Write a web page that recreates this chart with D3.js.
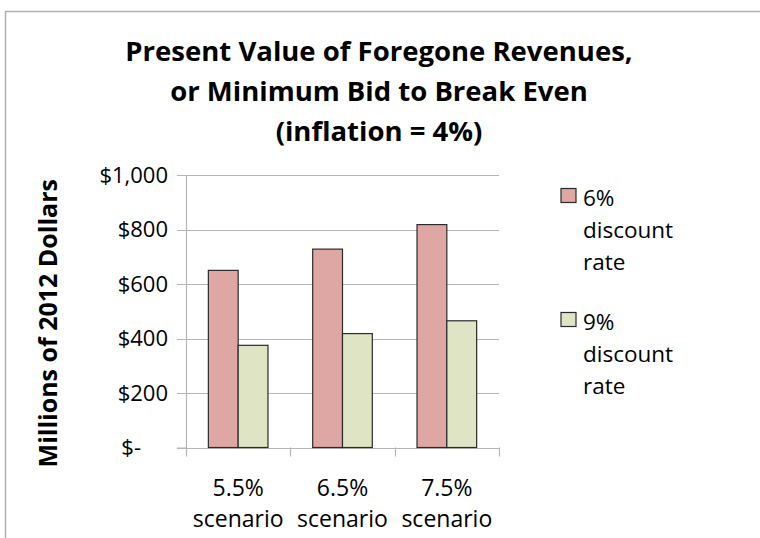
<!DOCTYPE html>
<html lang="en">
<head>
    <meta charset="UTF-8">
    <title>Present Value of Foregone Revenues</title>
    <script src="https://cdn.jsdelivr.net/npm/d3@7"></script>
    <style>
        html, body { margin: 0; padding: 0; background: #fff; }
        svg { display: block; font-family: "Open Sans", sans-serif; }
    </style>
</head>
<body>
    <div id="chart"></div>

    <script>
        // =============================
        // 1. Data
        // =============================
        const scenarios = ["5.5%", "6.5%", "7.5%"];
        const seriesNames = ["6% discount rate", "9% discount rate"];
        const rate6 = [650, 728, 818];
        const rate9 = [375, 418, 465];
        const yTicks = [0, 200, 400, 600, 800, 1000];
        const titleLines = ["Present Value of Foregone Revenues,", "or Minimum Bid to Break Even", "(inflation = 4%)"];

        const colors = ["#dfa7a4", "#dfe5c4"];
        const data = scenarios.map((s, i) => ({ scenario: s, values: [rate6[i], rate9[i]] }));

        // =============================
        // 2. SVG Setup
        // =============================
        const width = 760, height = 538;
        const plot = { left: 186, right: 499, top: 175, bottom: 447.5 };

        const svg = d3.select("#chart").append("svg")
            .attr("width", width)
            .attr("height", height);

        // chart frame (only top and left edges visible in the crop)
        svg.append("path")
            .attr("d", `M5.5,${height} V11.5 H${width}`)
            .attr("fill", "none")
            .attr("stroke", "#b0b0b0")
            .attr("stroke-width", 1.5);

        // title
        svg.append("text")
            .attr("text-anchor", "middle")
            .attr("font-weight", "bold")
            .attr("font-size", 27.5)
            .selectAll("tspan")
            .data(titleLines)
            .enter().append("tspan")
            .attr("x", 379)
            .attr("y", (d, i) => 61 + i * 40)
            .text(d => d);

        // =============================
        // 3. Scales
        // =============================
        const x0 = d3.scaleBand()
            .domain(scenarios)
            .range([plot.left, plot.right])
            .padding(0);

        const x1 = d3.scaleBand()
            .domain([0, 1])
            .range([0, x0.bandwidth()])
            .paddingInner(0)
            .paddingOuter(0.75);

        const y = d3.scaleLinear()
            .domain([0, 1000])
            .range([plot.bottom, plot.top]);

        // =============================
        // 4. Grid + Axes
        // =============================
        svg.append("g")
            .selectAll("line")
            .data(yTicks)
            .enter().append("line")
            .attr("x1", plot.left - 9)
            .attr("x2", plot.right)
            .attr("y1", d => Math.round(y(d)) + 0.5)
            .attr("y2", d => Math.round(y(d)) + 0.5)
            .attr("stroke", "#b5b5b5")
            .attr("stroke-width", 1.2);

        const yAxis = svg.append("g")
            .attr("transform", `translate(${plot.left},0)`)
            .call(d3.axisLeft(y)
                .tickValues(yTicks)
                .tickSize(9)
                .tickPadding(9)
                .tickFormat(d => d === 0 ? "$-" : d3.format("$,")(d)));
        yAxis.select(".domain").attr("stroke", "#b5b5b5").attr("stroke-width", 1.2);
        yAxis.selectAll(".tick line").attr("stroke", "none");
        yAxis.selectAll(".tick text")
            .attr("font-family", "Open Sans, sans-serif")
            .attr("font-size", 22)
            .attr("fill", "#000")
            .attr("dx", d => d === 0 ? -27 : 0);

        // x tick marks at category boundaries
        const edges = scenarios.map(s => x0(s)).concat([x0(scenarios[scenarios.length - 1]) + x0.bandwidth()]);
        svg.append("g")
            .selectAll("line")
            .data(edges)
            .enter().append("line")
            .attr("x1", d => Math.round(d) + 0.5)
            .attr("x2", d => Math.round(d) + 0.5)
            .attr("y1", plot.bottom)
            .attr("y2", plot.bottom + 9)
            .attr("stroke", "#b5b5b5")
            .attr("stroke-width", 1.2);

        // x labels
        const xLabels = svg.append("g")
            .selectAll("text")
            .data(scenarios)
            .enter().append("text")
            .attr("text-anchor", "middle")
            .attr("font-size", 23);
        xLabels.append("tspan")
            .attr("x", d => x0(d) + x0.bandwidth() / 2)
            .attr("y", 496)
            .text(d => d);
        xLabels.append("tspan")
            .attr("x", d => x0(d) + x0.bandwidth() / 2)
            .attr("y", 527)
            .text("scenario");

        // y axis title
        svg.append("text")
            .attr("transform", `translate(57,${(plot.top + plot.bottom) / 2 + 12}) rotate(-90)`)
            .attr("text-anchor", "middle")
            .attr("font-weight", "bold")
            .attr("font-size", 25)
            .text("Millions of 2012 Dollars");

        // =============================
        // 5. Bars
        // =============================
        svg.append("g")
            .selectAll("g")
            .data(data)
            .enter().append("g")
            .attr("transform", d => `translate(${x0(d.scenario)},0)`)
            .selectAll("rect")
            .data(d => d.values)
            .enter().append("rect")
            .attr("x", (d, i) => x1(i))
            .attr("y", d => y(d))
            .attr("width", x1.bandwidth())
            .attr("height", d => y(0) - y(d))
            .attr("fill", (d, i) => colors[i])
            .attr("stroke", "#2a2a2a")
            .attr("stroke-width", 1.2);

        // =============================
        // 6. Legend
        // =============================
        const legend = svg.append("g")
            .selectAll("g")
            .data(seriesNames)
            .enter().append("g")
            .attr("transform", (d, i) => `translate(561,${188.5 + i * 124})`);
        legend.append("rect")
            .attr("width", 15)
            .attr("height", 14)
            .attr("fill", (d, i) => colors[i])
            .attr("stroke", "#2a2a2a")
            .attr("stroke-width", 1.2);
        legend.append("text")
            .attr("font-size", 22.5)
            .selectAll("tspan")
            .data(d => d.split(" "))
            .enter().append("tspan")
            .attr("x", 22)
            .attr("y", (d, i) => 17.5 + i * 32)
            .text(d => d);
    </script>
</body>
</html>
